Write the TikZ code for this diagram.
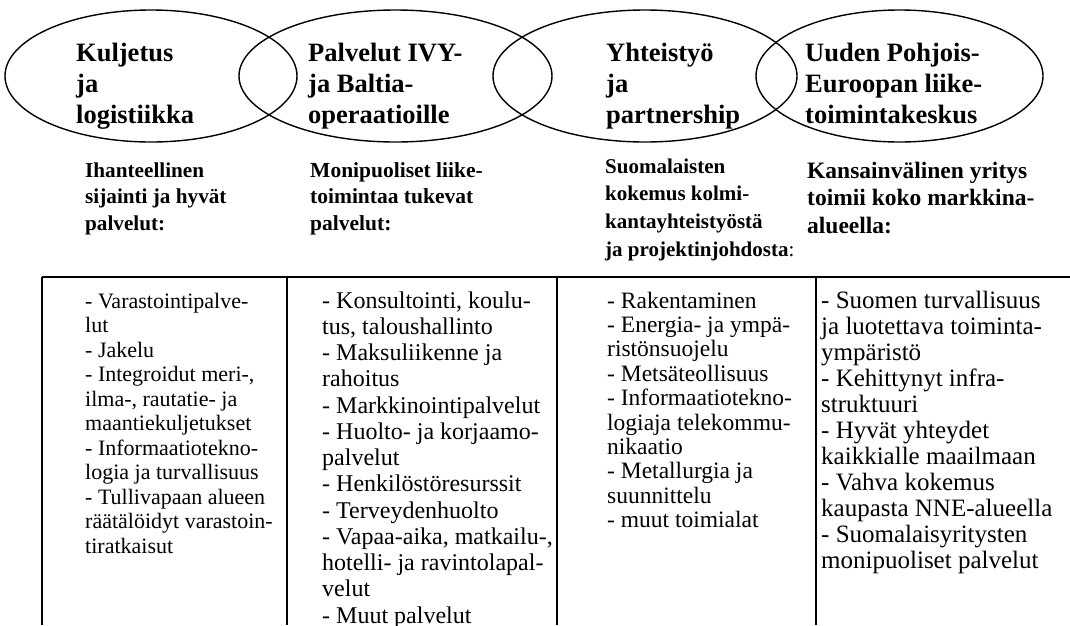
\documentclass[tikz,border=0pt]{standalone}
\usepackage{fontspec}
\setmainfont{Liberation Serif}
\usetikzlibrary{shapes.geometric}
\newcommand\colblock[1]{\parbox[t]{400pt}{\raggedright #1}}
\begin{document}
\begin{tikzpicture}[x=1pt,y=-1pt,
  oval/.style={draw, ellipse, line width=1.4pt, inner sep=0pt, minimum height=132pt},
  head/.style={anchor=base west, inner sep=0pt, font=\fontsize{26.5}{31}\selectfont\bfseries},
  sub/.style n args={2}{anchor=base west, inner sep=0pt, font=\fontsize{#1}{#2}\selectfont\bfseries},
  item/.style n args={2}{anchor=base west, inner sep=0pt, font=\fontsize{#1}{#2}\selectfont},
  rule/.style={line width=1.8pt}
]
\useasboundingbox (0,0) rectangle (1070,625);

% ellipses
\node[oval, minimum width=292pt] (e1) at (151,76) {};
\node[oval, minimum width=313pt] (e2) at (395.5,76) {};
\node[oval, minimum width=304pt] (e3) at (645,76) {};
\node[oval, minimum width=287pt] (e4) at (899.5,76) {};

% ellipse titles
\node[head] (h1) at (76,61) {\colblock{Kuljetus\\ja\\logistiikka}};
\node[head] (h2) at (308,61) {\colblock{Palvelut IVY-\\ja Baltia-\\operaatioille}};
\node[head] (h3) at (606,61) {\colblock{Yhteistyö\\ja\\partnership}};
\node[head] (h4) at (805,61) {\colblock{Uuden Pohjois-\\Euroopan liike-\\toimintakeskus}};

% sub headings
\node[sub={21.2}{26.5}] (s1) at (85,177) {\colblock{Ihanteellinen\\sijainti ja hyvät\\palvelut:}};
\node[sub={21.5}{26.5}] (s2) at (310,177) {\colblock{Monipuoliset liike-\\toimintaa tukevat\\palvelut:}};
\node[sub={21}{27.7}] (s3) at (605,173) {\colblock{Suomalaisten\\kokemus kolmi-\\kantayhteistyöstä\\ja projektinjohdosta{\mdseries :}}};
\node[sub={23.5}{27.5}] (s4) at (807,178) {\colblock{Kansainvälinen yritys\\toimii koko markkina-\\alueella:}};

% table frame
\coordinate (tl) at (42,277);
\coordinate (tr) at (1070,277);
\draw[rule] (tl) -- (tr);
\foreach \x in {42,287,557,816} \draw[rule] (\x,277) -- (\x,625);

% table contents
\node[item={22}{24.5}] (c1) at (85,308) {\colblock{- Varastointipalve-\\lut\\- Jakelu\\- Integroidut meri-,\\ilma-, rautatie- ja\\maantiekuljetukset\\- Informaatiotekno-\\logia ja turvallisuus\\- Tullivapaan alueen\\räätälöidyt varastoin-\\tiratkaisut}};
\node[item={24}{26.25}] (c2) at (322,308) {\colblock{- Konsultointi, koulu-\\tus, taloushallinto\\- Maksuliikenne ja\\rahoitus\\- Markkinointipalvelut\\- Huolto- ja korjaamo-\\palvelut\\- Henkilöstöresurssit\\- Terveydenhuolto\\- Vapaa-aika, matkailu-,\\hotelli- ja ravintolapal-\\velut\\- Muut palvelut}};
\node[item={23.5}{24.4}] (c3) at (607,308) {\colblock{- Rakentaminen\\- Energia- ja ympä-\\ristönsuojelu\\- Metsäteollisuus\\- Informaatiotekno-\\logiaja telekommu-\\nikaatio\\- Metallurgia ja\\suunnittelu\\- muut toimialat}};
\node[item={25}{26}] (c4) at (821,308) {\colblock{- Suomen turvallisuus\\ja luotettava toiminta-\\ympäristö\\- Kehittynyt infra-\\struktuuri\\- Hyvät yhteydet\\kaikkialle maailmaan\\- Vahva kokemus\\kaupasta NNE-alueella\\- Suomalaisyritysten\\monipuoliset palvelut}};
\end{tikzpicture}
\end{document}
